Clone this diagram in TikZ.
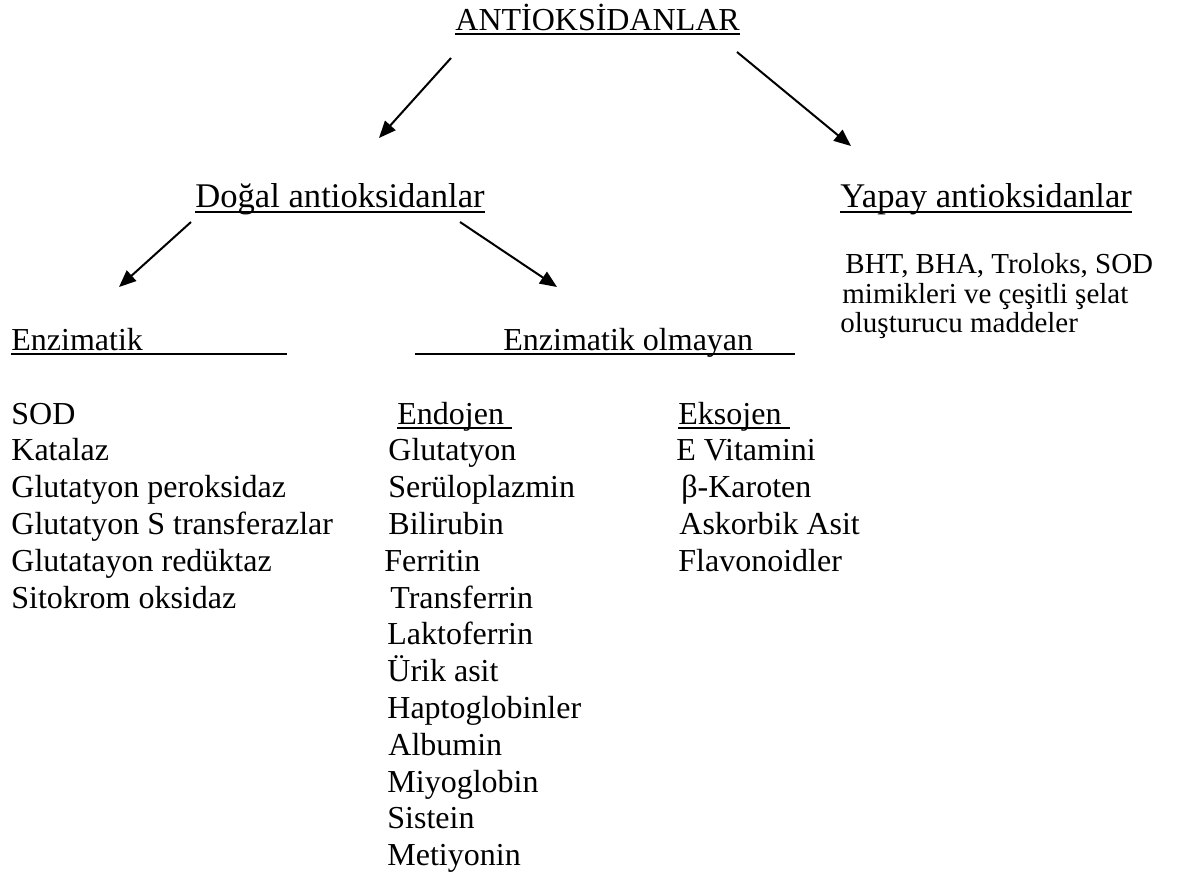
\documentclass[tikz,border=0pt]{standalone}
\usepackage{fontspec}
\setmainfont{Liberation Serif}
\usetikzlibrary{arrows.meta}
\tikzset{
  metin/.style={anchor=base west, inner sep=0pt, font=\fontsize{16}{18.4}\selectfont},
  buyuk/.style={metin, font=\fontsize{17.3}{20}\selectfont},
  kucuk/.style={metin, font=\fontsize{14.5}{16}\selectfont},
  ok/.style={-{Triangle[length=8.5pt,width=7pt]}, line width=1pt},
  alti/.style={line width=1.2pt}
}
\begin{document}
\begin{tikzpicture}[x=0.5pt,y=-0.5pt]
\useasboundingbox (0,0) rectangle (1192,874);
% Baslik
\node[metin] (baslik) at (455,30) {ANTİOKSİDANLAR};
\draw[alti, line width=1.4pt] ([yshift=-2pt]baslik.base west) -- ([yshift=-2pt]baslik.base east);
\node[buyuk] (dogal) at (195,207) {Doğal antioksidanlar};
\draw[alti] ([yshift=-2.5pt]dogal.base west) -- ([yshift=-2.5pt]dogal.base east);
\node[buyuk] (yapay) at (840,207) {Yapay antioksidanlar};
\draw[alti] ([yshift=-2.5pt]yapay.base west) -- ([yshift=-2.5pt]yapay.base east);
\coordinate (b1) at (451,58);  \coordinate (b2) at (379,138);
\coordinate (b3) at (737,52);  \coordinate (b4) at (851,146);
\draw[ok] (b1) -- (b2);
\draw[ok] (b3) -- (b4);
% Dogal antioksidanlar
\coordinate (d1) at (191,222); \coordinate (d2) at (119,287);
\coordinate (d3) at (460,222); \coordinate (d4) at (557,287);
\draw[ok] (d1) -- (d2);
\draw[ok] (d3) -- (d4);
\node[metin] (enz) at (11,350) {Enzimatik};
\draw[alti] ([yshift=-2pt]enz.base west) -- ++(276,0);
\node[metin] (olm) at (503,350) {Enzimatik olmayan};
\draw[alti] ([shift={(-88,4)}]olm.base west) -- ([shift={(41,4)}]olm.base east);
% Yapay antioksidanlar
\node[kucuk] (y1) at (845,273) {BHT, BHA, Troloks, SOD};
\node[kucuk] (y2) at (842,303) {mimikleri ve çeşitli şelat};
\node[kucuk] (y3) at (840,332) {oluşturucu maddeler};
% Enzimatik
\node[metin] (e1) at (11,424) {SOD};
\node[metin] (e2) at (11,460.8) {Katalaz};
\node[metin] (e3) at (11,497.6) {Glutatyon peroksidaz};
\node[metin] (e4) at (11,534.4) {Glutatyon S transferazlar};
\node[metin] (e5) at (11,571.2) {Glutatayon redüktaz};
\node[metin] (e6) at (11,608) {Sitokrom oksidaz};
% Endojen
\node[metin] (endo) at (397,424) {Endojen};
\draw[alti] ([yshift=-2pt]endo.base west) -- ([shift={(8,4)}]endo.base east);
\node[metin] (n1) at (388,460.8) {Glutatyon};
\node[metin] (n2) at (388,497.6) {Serüloplazmin};
\node[metin] (n3) at (388,534.4) {Bilirubin};
\node[metin] (n4) at (384,571.2) {Ferritin};
\node[metin] (n5) at (390,608) {Transferrin};
\node[metin] (n6) at (387,644.8) {Laktoferrin};
\node[metin] (n7) at (387,681.6) {Ürik asit};
\node[metin] (n8) at (387,718.4) {Haptoglobinler};
\node[metin] (n9) at (388,755.2) {Albumin};
\node[metin] (n10) at (387,792) {Miyoglobin};
\node[metin] (n11) at (387,828.8) {Sistein};
\node[metin] (n12) at (387,865.6) {Metiyonin};
% Eksojen
\node[metin] (ekso) at (678,424) {Eksojen};
\draw[alti] ([yshift=-2pt]ekso.base west) -- ([shift={(8,4)}]ekso.base east);
\node[metin] (x1) at (676,460.8) {E Vitamini};
\node[metin] (x2) at (681,497.6) {β-Karoten};
\node[metin] (x3) at (679,534.4) {Askorbik Asit};
\node[metin] (x4) at (678,571.2) {Flavonoidler};
\end{tikzpicture}
\end{document}
